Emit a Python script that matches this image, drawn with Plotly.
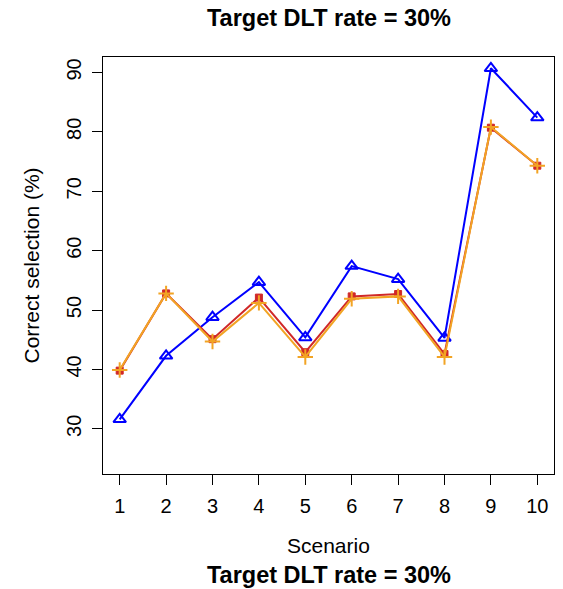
import plotly.graph_objects as go

scenarios = [1, 2, 3, 4, 5, 6, 7, 8, 9, 10]
blue_vals = [31.6, 42.3, 48.8, 54.7, 45.4, 57.4, 55.2, 45.3, 90.7, 82.4]
red_vals = [39.8, 52.8, 45.1, 52.1, 42.9, 52.3, 52.7, 42.6, 80.7, 74.3]
orange_vals = [39.9, 52.8, 44.7, 51.2, 42.1, 51.9, 52.3, 42.1, 80.8, 74.3]
y_ticks = [30, 40, 50, 60, 70, 80, 90]
title_text = "Target DLT rate = 30%"

FONT = "Liberation Sans, Arial, Helvetica, sans-serif"

fig = go.Figure()
fig.add_trace(go.Scatter(
    x=scenarios, y=blue_vals, mode="lines+markers",
    line=dict(color="#0000FF", width=2),
    marker=dict(symbol="triangle-up-open", size=11, color="#0000FF",
                line=dict(color="#0000FF", width=2)),
    showlegend=False))
fig.add_trace(go.Scatter(
    x=scenarios, y=red_vals, mode="lines+markers",
    line=dict(color="#D02828", width=2),
    marker=dict(symbol="square", size=7, color="#D02828",
                line=dict(color="#D02828", width=1)),
    showlegend=False))
fig.add_trace(go.Scatter(
    x=scenarios, y=orange_vals, mode="lines+markers",
    line=dict(color="#F2A424", width=2),
    marker=dict(symbol="cross-thin-open", size=11, color="#F2A424",
                line=dict(color="#F2A424", width=2)),
    showlegend=False))

fig.update_layout(
    width=563, height=589,
    margin=dict(l=103, r=9, t=57, b=115),
    paper_bgcolor="white", plot_bgcolor="white",
    font=dict(family=FONT, color="black"),
    xaxis=dict(range=[0.64, 10.36], tickvals=scenarios,
               ticktext=[str(s) for s in scenarios],
               showgrid=False, zeroline=False,
               showline=True, mirror=True, linecolor="black", linewidth=1,
               ticks="outside", ticklen=10, tickcolor="black", tickwidth=1,
               ticklabelstandoff=4,
               tickfont=dict(size=20, family=FONT, color="black")),
    yaxis=dict(range=[22.4, 92.6], tickvals=y_ticks,
               showgrid=False, zeroline=False,
               showline=True, mirror=True, linecolor="black", linewidth=1,
               ticks="outside", ticklen=10, tickcolor="black", tickwidth=1,
               tickangle=-90, ticklabelstandoff=3,
               tickfont=dict(size=20, family=FONT, color="black")),
    annotations=[
        dict(text="<b>" + title_text + "</b>", xref="paper", yref="paper",
             x=0.5, y=1, yshift=39, xanchor="center", yanchor="middle",
             showarrow=False, font=dict(size=23.5, family=FONT, color="black")),
        dict(text="Scenario", xref="paper", yref="paper",
             x=0.5, y=0, yshift=-71, xanchor="center", yanchor="middle",
             showarrow=False, font=dict(size=21, family=FONT, color="black")),
        dict(text="<b>" + title_text + "</b>", xref="paper", yref="paper",
             x=0.5, y=0, yshift=-101, xanchor="center", yanchor="middle",
             showarrow=False, font=dict(size=23.5, family=FONT, color="black")),
        dict(text="Correct selection (%)", xref="paper", yref="paper",
             x=0, y=0.5, xshift=-72, xanchor="center", yanchor="middle",
             textangle=-90,
             showarrow=False, font=dict(size=21, family=FONT, color="black")),
    ],
)

fig.write_html("out.html",
               config={"displayModeBar": False},
               post_script="document.body.style.margin='0px';document.body.style.overflow='hidden';")
